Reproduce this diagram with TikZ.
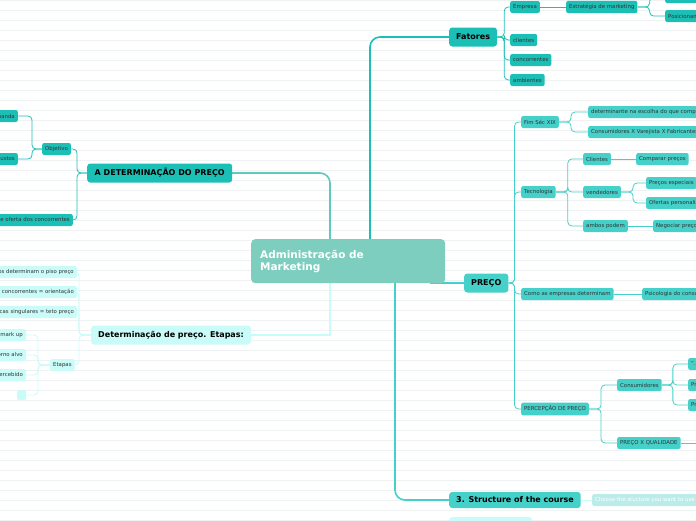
\documentclass[tikz,border=0pt]{standalone}
\usepackage{fontspec}
\setmainfont{DejaVu Sans}
\usetikzlibrary{calc}
\definecolor{dark}{HTML}{1BBFB6}
\definecolor{mid}{HTML}{45D0C9}
\definecolor{pale}{HTML}{C9FBF8}
\definecolor{core}{HTML}{7ECEC0}
\definecolor{faded}{HTML}{8EE0DA}
\definecolor{rule}{HTML}{EEF2F2}
\tikzset{
  box/.style={rounded corners=2pt, inner xsep=3pt, minimum height=12pt, font=\fontsize{5.4}{6}\selectfont, text=black!80, anchor=west},
  dk/.style={box, fill=dark},
  md/.style={box, fill=mid},
  lt/.style={box, fill=pale},
  big/.style={rounded corners=3pt, inner xsep=7pt, minimum height=19pt, font=\fontsize{8}{9}\bfseries, anchor=west},
  link/.style={draw=#1, line width=0.8pt, rounded corners=4pt},
  link/.default=mid,
}
\begin{document}
\begin{tikzpicture}[x=1pt, y=-1pt]
\useasboundingbox (0,0) rectangle (696,520);
\clip (0,0) rectangle (696,520);
\foreach \y in {0,10,...,520} \draw[rule, line width=0.4pt] (0,\y) -- (696,\y);

% centre and main trunks
\draw[core!70!dark, line width=1.6pt, rounded corners=10pt] (330,250) -- (330,173) -- (232,173);
\draw[dark, line width=1.6pt, rounded corners=10pt] (370,250) -- (370,37) -- (449,37);
\draw[mid, line width=1.6pt, rounded corners=10pt] (395,283) -- (395,500) -- (449,500);
\draw[mid, line width=1.2pt] (430,283) -- (464,283);
\draw[pale, line width=1.2pt] (330,270) -- (330,335) -- (248,335);
\node[rounded corners=4pt, fill=core, minimum width=194pt, minimum height=44pt, anchor=north west, text=white, font=\fontsize{10.5}{12}\bfseries, align=left, text width=176pt] (core) at (251,239) {Administração de\\Marketing};

% left: A DETERMINACAO
\node[big, fill=dark, minimum width=145pt] (det) at (87,173) {A DETERMINAÇÃO DO PREÇO};
\node[dk] (obj) at (42,149) {Objetivo};
\node[dk, anchor=east] (dem) at (18,116) {Demanda};
\node[dk, anchor=east] (cus) at (18,159) {Custos};
\node[dk, anchor=east] (ofe) at (73,220) {Preços e oferta dos concorrentes};
\draw[link=dark] (det.west) -- ++(-10,0) |- (obj.east);
\draw[link=dark] (det.west) -- ++(-10,0) |- (ofe.east);
\draw[link=dark] (obj.west) -- ++(-10,0) |- (dem.east);
\draw[link=dark] (obj.west) -- ++(-10,0) |- (cus.east);

% left: Etapas
\node[big, fill=pale, minimum width=157pt] (eta) at (91,335) {Determinação de preço. Etapas:};
\node[lt, anchor=east] (piso) at (77,272) {Custos determinam o piso preço};
\node[lt, anchor=east] (conc) at (77,292) {Preços dos concorrentes = orientação};
\node[lt, anchor=east] (teto) at (77,312) {Características singulares = teto preço};
\node[lt] (etp) at (50,365) {Etapas};
\node[lt, anchor=east] (mk) at (26,335) {Preço de mark up};
\node[lt, anchor=east] (ret) at (26,355) {Preço de retorno alvo};
\node[lt, anchor=east] (val) at (26,375) {Preço de valor percebido};
\node[lt, minimum width=9pt, minimum height=10pt] (vz) at (17,395) {};
\foreach \n in {piso,conc,teto,etp} \draw[link=pale] (eta.west) -- ++(-12,0) |- (\n.east);
\foreach \n in {mk,ret,val,vz} \draw[link=pale] (etp.west) -- ++(-12,0) |- (\n.east);

% right: Fatores
\node[big, fill=dark] (fat) at (449,37) {Fatores};
\node[dk] (emp) at (510,7) {Empresa};
\node[dk] (est) at (566,7) {Estratégia de marketing};
\node[dk] (obm) at (665,-3) {Objetivos de marketing};
\node[dk] (pos) at (665,16) {Posicionamento};
\node[dk] (cli) at (510,40) {clientes};
\node[dk] (con) at (510,60) {concorrentes};
\node[dk] (amb) at (510,80) {ambientes};
\foreach \n in {emp,cli,con,amb} \draw[link=dark] (fat.east) -- ++(7,0) |- (\n.west);
\draw[link=dark] (emp.east) -- (est.west);
\foreach \n in {obm,pos} \draw[link=dark] (est.east) -- ++(12,0) |- (\n.west);

% right: PRECO
\node[big, fill=mid] (pre) at (464,283) {PREÇO};
\node[md] (fim) at (521,122) {Fim Séc XIX};
\node[md] (det1) at (588,112) {determinante na escolha do que comprar};
\node[md] (cvf) at (588,132) {Consumidores X Varejista X Fabricantes};
\node[md] (tec) at (521,192) {Tecnologia};
\node[md] (cl2) at (583,159) {Clientes};
\node[md] (cmp) at (636,159) {Comparar preços};
\node[md] (ven) at (583,192) {vendedores};
\node[md] (pes) at (646,183) {Preços especiais};
\node[md] (ofp) at (646,203) {Ofertas personalizadas};
\node[md] (amp) at (583,226) {ambos podem};
\node[md] (neg) at (653,226) {Negociar preços};
\node[md] (com) at (521,294) {Como as empresas determinam};
\node[md] (psi) at (642,294) {Psicologia do consumidor};
\node[md] (per) at (521,409) {PERCEPÇÃO DE PREÇO};
\node[md] (csm) at (617,385) {Consumidores};
\node[md] (c1) at (688,364) {"...};
\node[md] (c2) at (688,385) {Preço};
\node[md] (c3) at (688,405) {Preço};
\node[md] (pxq) at (617,443) {PREÇO X QUALIDADE};
\coordinate (pxe) at (700,443);
\foreach \n in {fim,tec,com,per} \draw[link] (pre.east) -- ++(6,0) |- (\n.west);
\foreach \n in {det1,cvf} \draw[link] (fim.east) -- ++(12,0) |- (\n.west);
\foreach \n in {cl2,ven,amp} \draw[link] (tec.east) -- ++(12,0) |- (\n.west);
\draw[link] (cl2.east) -- (cmp.west);
\foreach \n in {pes,ofp} \draw[link] (ven.east) -- ++(12,0) |- (\n.west);
\draw[link] (amp.east) -- (neg.west);
\draw[link] (com.east) -- (psi.west);
\foreach \n in {csm,pxq} \draw[link] (per.east) -- ++(12,0) |- (\n.west);
\foreach \n in {c1,c2,c3} \draw[link] (csm.east) -- ++(11,0) |- (\n.west);
\draw[link] (pxq.east) -- (pxe);

% right: structure
\node[big, fill=mid, minimum height=16pt] (str) at (449,500) {3. Structure of the course};
\node[md, fill=faded!60, text=white] (cho) at (592,500) {Choose the stucture you want to use for your course};
\draw[link=pale] (str.east) -- (cho.west);
\node[big, fill=pale, minimum width=83pt, anchor=north west] (nxt) at (449,517) {};
\end{tikzpicture}
\end{document}
